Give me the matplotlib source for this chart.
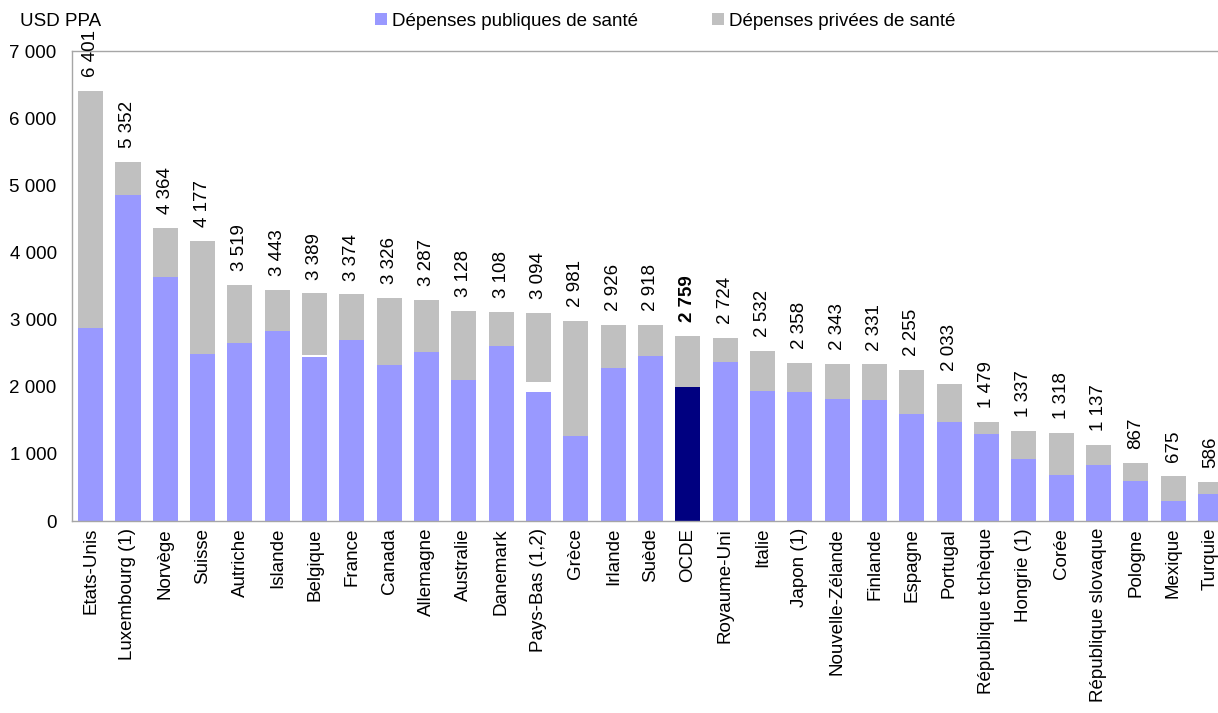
import matplotlib
matplotlib.use("Agg")
import matplotlib.pyplot as plt
import numpy as np

plt.rcParams['font.family'] = ['Liberation Sans', 'DejaVu Sans']

categories = ["Etats-Unis", "Luxembourg (1)", "Norvège", "Suisse", "Autriche", "Islande",
              "Belgique", "France", "Canada", "Allemagne", "Australie", "Danemark",
              "Pays-Bas (1,2)", "Grèce", "Irlande", "Suède", "OCDE", "Royaume-Uni",
              "Italie", "Japon (1)", "Nouvelle-Zélande", "Finlande", "Espagne", "Portugal",
              "République tchèque", "Hongrie (1)", "Corée", "République slovaque",
              "Pologne", "Mexique", "Turquie"]
total = [6401, 5352, 4364, 4177, 3519, 3443, 3389, 3374, 3326, 3287, 3128, 3108,
         3094, 2981, 2926, 2918, 2759, 2724, 2532, 2358, 2343, 2331, 2255, 2033,
         1479, 1337, 1318, 1137, 867, 675, 586]
public = [2875, 4855, 3634, 2487, 2651, 2830, 2443, 2696, 2323, 2517, 2100, 2606,
          1921, 1266, 2279, 2457, 1996, 2368, 1936, 1921, 1817, 1802, 1594, 1475,
          1296, 923, 685, 834, 596, 298, 402]
# unallocated part (gap between public and private segments)
gap = [0, 0, 0, 0, 0, 0, 30, 0, 0, 0, 0, 0,
       149, 0, 0, 0, 0, 0, 0, 0, 0, 0, 0, 0,
       0, 0, 0, 0, 0, 0, 0]
highlight = "OCDE"
series_labels = ["Dépenses publiques de santé", "Dépenses privées de santé"]
yticks = [0, 1000, 2000, 3000, 4000, 5000, 6000, 7000]

pub_col = "#9999FF"
priv_col = "#C0C0C0"
oecd_col = "#000080"

W, H = 1218, 713
fig = plt.figure(figsize=(W / 100, H / 100), dpi=100)
left_px, right_px, top_px, bottom_px = 72, 72 + 31 * 37.33, 51, 521
ax = fig.add_axes([left_px / W, 1 - bottom_px / H, (right_px - left_px) / W, (bottom_px - top_px) / H])

x = np.arange(len(categories))
pub = np.array(public)
tot = np.array(total)
g = np.array(gap)
priv = tot - pub - g
pub_colors = [oecd_col if c == highlight else pub_col for c in categories]

ax.bar(x, pub, width=0.67, color=pub_colors, label=series_labels[0], zorder=2)
ax.bar(x, priv, bottom=pub + g, width=0.67, color=priv_col, label=series_labels[1], zorder=2)

fs = 13.5
for i, (c, t) in enumerate(zip(categories, total)):
    s = f"{t:,}".replace(",", " ")
    ax.annotate(s, (i, t), xytext=(0, 10), textcoords="offset points", rotation=90,
                ha="center", va="bottom", fontsize=fs,
                fontweight="bold" if c == highlight else "normal")

ax.set_xlim(-0.5, len(categories) - 0.5)
ax.set_ylim(0, 7000)
ax.set_yticks(yticks)
ax.set_yticklabels([f"{v:,}".replace(",", " ") for v in yticks], fontsize=fs)
ax.set_xticks(x)
ax.set_xticklabels(categories, rotation=90, fontsize=fs, va="top", ha="center")
ax.tick_params(axis="both", length=0)
ax.tick_params(axis="y", pad=11)
ax.tick_params(axis="x", pad=5)
for sp in ax.spines.values():
    sp.set_color("#A6A6A6")
    sp.set_linewidth(1)

fig.text(20 / W, 1 - 21 / H, "USD PPA", fontsize=fs, va="center", ha="left")

handles, labels = ax.get_legend_handles_labels()
leg = fig.legend(handles, labels, loc="center left", bbox_to_anchor=(375 / W, 1 - 21 / H),
                 ncol=2, frameon=False, fontsize=fs, handlelength=0.64, handleheight=0.64,
                 handletextpad=0.27, columnspacing=3.95, borderpad=0, borderaxespad=0)

fig.savefig("out.png", dpi=100)
